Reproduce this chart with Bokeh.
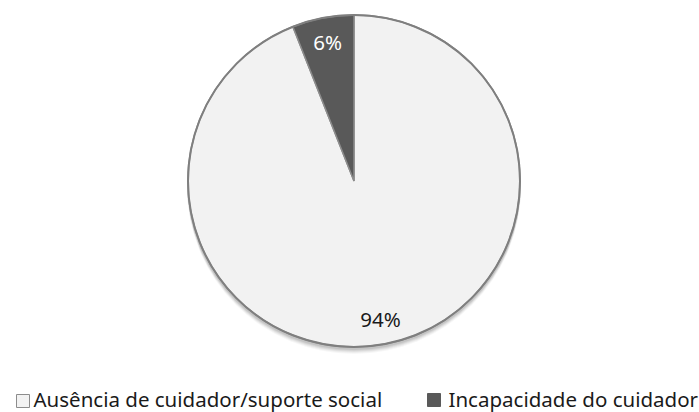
import math
from bokeh.plotting import figure
from bokeh.models import Range1d, ColumnDataSource
from bokeh.core.properties import value
from bokeh.embed import file_html
from bokeh.resources import INLINE

categories = ["Ausência de cuidador/suporte social", "Incapacidade do cuidador"]
values = [94, 6]
labels = ["94%", "6%"]
colors = ["#f2f2f2", "#595959"]
label_colors = ["#1a1a1a", "#ffffff"]

W, H = 699, 412
FONT = "Noto Sans"
FS = 20.5
TEXT_SHIFT = 8  # compensation for the renderer's baseline placement (px)

p = figure(width=W, height=H, output_backend="svg", toolbar_location=None,
           x_range=Range1d(0, W), y_range=Range1d(0, H), min_border=0)
p.axis.visible = False
p.grid.visible = False
p.outline_line_color = None
p.background_fill_color = "white"
p.border_fill_color = "white"

cx, cy, r = 353.5, H - 180.5, 166

# soft drop shadow
for dy, a in [(6, 0.03), (5, 0.04), (4, 0.05), (3, 0.06), (2, 0.07)]:
    p.circle(x=[cx], y=[cy - dy], radius=r + 1, fill_color="black",
             fill_alpha=a, line_color=None)

total = sum(values)
starts, ends, mids = [], [], []
acc = 0.0
for v in values:
    a0 = math.pi / 2 - 2 * math.pi * acc / total
    acc += v
    a1 = math.pi / 2 - 2 * math.pi * acc / total
    starts.append(a1)
    ends.append(a0)
    mids.append((a0 + a1) / 2)

src = ColumnDataSource(dict(start=starts, end=ends, color=colors, cat=categories))
p.wedge(x=cx, y=cy, radius=r, start_angle="start", end_angle="end",
        fill_color="color", line_color="#8c8c8c", line_width=1.5, source=src)
p.circle(x=[cx], y=[cy], radius=r, fill_color=None, line_color="#7f7f7f", line_width=2)

# data labels (centre at 0.85 r)
ratio = 0.85
lx = [cx + ratio * r * math.cos(m) for m in mids]
ly = [cy + ratio * r * math.sin(m) - 0.36 * FS + TEXT_SHIFT for m in mids]
p.text(x=lx, y=ly, text=labels, text_color=label_colors, text_font=value(FONT),
       text_font_size=f"{FS}px", text_align="center", text_baseline="alphabetic")

# legend
base = H - 406 + TEXT_SHIFT
sq_x = [22.5, 433.5]
sq_y = [H - 400.5, H - 399.5]
tx = [33, 448]
p.rect(x=sq_x, y=sq_y, width=13, height=13, fill_color=colors,
       line_color=["#8c8c8c", "#595959"], line_width=1)
p.text(x=tx, y=[base, base], text=categories, text_color="#1a1a1a",
       text_font=value(FONT), text_font_size=f"{FS}px", text_align="left",
       text_baseline="alphabetic")

open("out.html", "w").write(file_html(p, INLINE))
